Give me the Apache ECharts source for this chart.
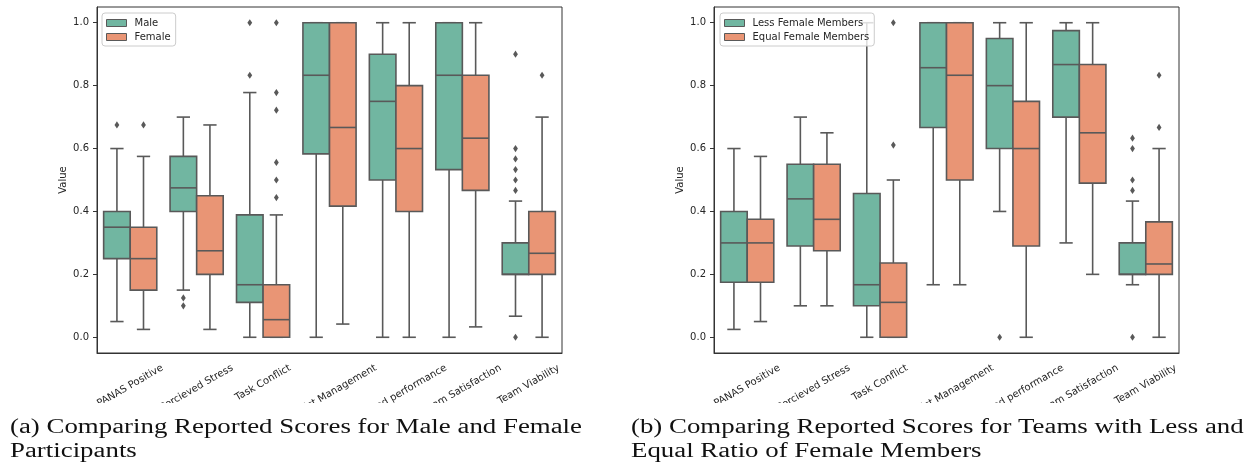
<!DOCTYPE html>
<html><head><meta charset="utf-8">
<script src="https://cdn.jsdelivr.net/npm/echarts@6/dist/echarts.min.js"></script>
<style>html,body{margin:0;padding:0;background:#fff;}#c{width:1255px;height:470px;}</style>
</head><body><div id="c"></div>
<script>
// ---------- data ----------
const categories = ['PANAS Positive', 'Percieved Stress', 'Task Conflict', 'Conflict Management', 'Perceived performance', 'Team Satisfaction', 'Team Viability'];
const yTicks = [0, 0.2, 0.4, 0.6, 0.8, 1.0];
const legendA = ['Male', 'Female'];
const legendB = ['Less Female Members', 'Equal Female Members'];
const captionA = ['(a) Comparing Reported Scores for Male and Female', 'Participants'];
const captionB = ['(b) Comparing Reported Scores for Teams with Less and', 'Equal Ratio of Female Members'];

// [lower whisker, Q1, median, Q3, upper whisker]
const maleBoxes = [
  [0.05, 0.25, 0.35, 0.40, 0.60],
  [0.15, 0.40, 0.475, 0.575, 0.70],
  [0.00, 0.111, 0.167, 0.389, 0.778],
  [0.00, 0.583, 0.833, 1.00, 1.00],
  [0.00, 0.50, 0.75, 0.90, 1.00],
  [0.00, 0.533, 0.833, 1.00, 1.00],
  [0.067, 0.20, 0.20, 0.30, 0.433]
];
const femaleBoxes = [
  [0.025, 0.15, 0.25, 0.35, 0.575],
  [0.025, 0.20, 0.275, 0.45, 0.675],
  [0.00, 0.00, 0.056, 0.167, 0.389],
  [0.042, 0.417, 0.667, 1.00, 1.00],
  [0.00, 0.40, 0.60, 0.80, 1.00],
  [0.033, 0.467, 0.633, 0.833, 1.00],
  [0.00, 0.20, 0.267, 0.40, 0.70]
];
const maleOutliers = [[0.675], [0.125, 0.10], [1.0, 0.833], [], [], [], [0.9, 0.60, 0.567, 0.533, 0.50, 0.467, 0.0]];
const femaleOutliers = [[0.675], [], [1.0, 0.778, 0.722, 0.556, 0.50, 0.444], [], [], [], [0.833]];

const lessBoxes = [
  [0.025, 0.175, 0.30, 0.40, 0.60],
  [0.10, 0.29, 0.44, 0.55, 0.70],
  [0.00, 0.10, 0.167, 0.457, 1.00],
  [0.167, 0.667, 0.857, 1.00, 1.00],
  [0.40, 0.60, 0.80, 0.95, 1.00],
  [0.30, 0.70, 0.867, 0.975, 1.00],
  [0.167, 0.20, 0.20, 0.30, 0.433]
];
const equalBoxes = [
  [0.05, 0.175, 0.30, 0.375, 0.575],
  [0.10, 0.275, 0.375, 0.55, 0.65],
  [0.00, 0.00, 0.111, 0.236, 0.50],
  [0.167, 0.50, 0.833, 1.00, 1.00],
  [0.00, 0.29, 0.60, 0.75, 1.00],
  [0.20, 0.49, 0.65, 0.867, 1.00],
  [0.00, 0.20, 0.233, 0.367, 0.60]
];
const lessOutliers = [[], [], [], [], [0.0], [], [0.633, 0.60, 0.50, 0.467, 0.0]];
const equalOutliers = [[], [], [1.0, 0.611], [], [], [], [0.833, 0.667]];

// ---------- style ----------
const GREEN = '#71b6a1', ORANGE = '#e99575', LINE = '#595959', AXIS = '#333333';
const FONT = 'DejaVu Sans';

const ctx = document.createElement('canvas').getContext('2d');
function textW(t, font) { ctx.font = font; return ctx.measureText(t).width; }

// Rotated (30°) labels centred on the tick like matplotlib: rotated bbox top 9px below the axis.
const LABEL_MARGIN = 4, LABEL_H = 12;
const catData = categories.map(c => {
  const w = textW(c, '10px "' + FONT + '"');
  const X = -0.25 * LABEL_H;
  const Y = 9 + 0.25 * w - LABEL_MARGIN;
  const a = 0.866 * X - 0.5 * Y;   // shift along the text direction
  const b = 0.5 * X + 0.866 * Y;   // shift perpendicular to the text
  const pl = a > 0 ? 2 * a : 0, pr = a < 0 ? -2 * a : 0;
  return { value: c, textStyle: { align: 'center', verticalAlign: 'top', padding: [Math.max(b, 0), pr, 0, pl] } };
});

function boxData(arr) { return arr.map((b, i) => [i].concat(b)); }
function outData(arr) { const r = []; arr.forEach((vs, i) => vs.forEach(v => r.push([i, v]))); return r; }

function boxRender(sign, color) {
  return function (params, api) {
    const cat = api.value(0);
    const band = api.size([1, 0])[0];
    const bw = band * 0.4;
    const cx = api.coord([cat, 0])[0] + sign * bw / 2;
    const y = i => api.coord([cat, api.value(i)])[1];
    const yLow = y(1), yQ1 = y(2), yMed = y(3), yQ3 = y(4), yHigh = y(5);
    const cap = bw * 0.25;
    const ls = { stroke: LINE, lineWidth: 1.6, fill: null };
    return {
      type: 'group', children: [
        { type: 'line', shape: { x1: cx, y1: yLow, x2: cx, y2: yQ1 }, style: ls },
        { type: 'line', shape: { x1: cx, y1: yQ3, x2: cx, y2: yHigh }, style: ls },
        { type: 'line', shape: { x1: cx - cap, y1: yLow, x2: cx + cap, y2: yLow }, style: ls },
        { type: 'line', shape: { x1: cx - cap, y1: yHigh, x2: cx + cap, y2: yHigh }, style: ls },
        { type: 'rect', shape: { x: cx - bw / 2, y: yQ3, width: bw, height: yQ1 - yQ3 }, style: { fill: color, stroke: LINE, lineWidth: 1.6 } },
        { type: 'line', shape: { x1: cx - bw / 2, y1: yMed, x2: cx + bw / 2, y2: yMed }, style: ls }
      ]
    };
  };
}
function outRender(sign) {
  return function (params, api) {
    const cat = api.value(0);
    const band = api.size([1, 0])[0];
    const p = api.coord([cat, api.value(1)]);
    const x = p[0] + sign * band * 0.2, yy = p[1];
    return { type: 'polygon', shape: { points: [[x, yy - 3.6], [x + 2.4, yy], [x, yy + 3.6], [x - 2.4, yy]] }, style: { fill: LINE } };
  };
}

const grids = [
  { left: 97, top: 7, width: 465, height: 346, show: true, borderColor: AXIS, borderWidth: 1, backgroundColor: 'transparent' },
  { left: 714, top: 7, width: 465, height: 346, show: true, borderColor: AXIS, borderWidth: 1, backgroundColor: 'transparent' }
];
function xAx(gi) {
  return {
    type: 'category', gridIndex: gi, data: catData, boundaryGap: true,
    axisLine: { onZero: false, lineStyle: { color: AXIS, width: 1 } },
    axisTick: { alignWithLabel: true, length: 4, lineStyle: { color: AXIS } },
    axisLabel: { interval: 0, rotate: 30, margin: LABEL_MARGIN, lineHeight: LABEL_H, color: '#262626', fontFamily: FONT, fontSize: 10, hideOverlap: false },
    splitLine: { show: false }
  };
}
function yAx(gi) {
  return {
    type: 'value', gridIndex: gi, min: -0.05, max: 1.05,
    name: 'Value', nameLocation: 'middle', nameGap: 29,
    nameTextStyle: { fontFamily: FONT, fontSize: 10, color: '#262626' },
    axisLine: { show: true, onZero: false, lineStyle: { color: AXIS, width: 1 } },
    axisTick: { show: true, length: 4, customValues: yTicks, lineStyle: { color: AXIS } },
    axisLabel: { customValues: yTicks, formatter: v => v.toFixed(1), margin: 8, color: '#262626', fontFamily: FONT, fontSize: 10 },
    splitLine: { show: false }
  };
}
function legend(names, left) {
  return {
    orient: 'vertical', left: left, top: 13,
    padding: [5, 5, 4, 4], itemGap: 4, itemWidth: 20, itemHeight: 7,
    backgroundColor: 'rgba(255,255,255,0.8)', borderColor: '#cccccc', borderWidth: 1, borderRadius: 3,
    textStyle: { fontFamily: FONT, fontSize: 10, color: '#262626', padding: [0, 0, 0, 3] },
    data: [
      { name: names[0], icon: 'rect', itemStyle: { color: GREEN, borderColor: LINE, borderWidth: 1 } },
      { name: names[1], icon: 'rect', itemStyle: { color: ORANGE, borderColor: LINE, borderWidth: 1 } }
    ]
  };
}
function boxSeries(name, gi, arr, sign, color) {
  return { name: name, type: 'custom', xAxisIndex: gi, yAxisIndex: gi, renderItem: boxRender(sign, color),
    itemStyle: { color: color, borderColor: LINE }, encode: { x: 0, y: [1, 2, 3, 4, 5] }, data: boxData(arr), z: 2 };
}
function outSeries(name, gi, arr, sign) {
  return { name: name, type: 'custom', xAxisIndex: gi, yAxisIndex: gi, renderItem: outRender(sign),
    encode: { x: 0, y: 1 }, data: outData(arr), z: 3 };
}

// caption: Liberation Serif, horizontally scaled to the reference caption width
const CAP_FS = 20.5;
const capScale = 572 / textW(captionA[0], CAP_FS + 'px "Liberation Serif"');
const capStyle = { fontFamily: 'Liberation Serif', fontSize: CAP_FS, fill: '#111' };
function cap(text, x, y) {
  return { type: 'text', x: x, y: y, scaleX: capScale, style: Object.assign({ text: text }, capStyle), z: 101 };
}

const option = {
  animation: false,
  backgroundColor: '#fff',
  grid: grids,
  xAxis: [xAx(0), xAx(1)],
  yAxis: [yAx(0), yAx(1)],
  legend: [legend(legendA, 102), legend(legendB, 720)],
  series: [
    boxSeries(legendA[0], 0, maleBoxes, -1, GREEN),
    boxSeries(legendA[1], 0, femaleBoxes, 1, ORANGE),
    outSeries(legendA[0], 0, maleOutliers, -1),
    outSeries(legendA[1], 0, femaleOutliers, 1),
    boxSeries(legendB[0], 1, lessBoxes, -1, GREEN),
    boxSeries(legendB[1], 1, equalBoxes, 1, ORANGE),
    outSeries(legendB[0], 1, lessOutliers, -1),
    outSeries(legendB[1], 1, equalOutliers, 1)
  ],
  graphic: [
    { type: 'rect', left: 0, top: 403, shape: { width: 1255, height: 67 }, style: { fill: '#fff' }, z: 100 },
    cap(captionA[0], 10, 417),
    cap(captionA[1], 10, 441),
    cap(captionB[0], 631, 417),
    cap(captionB[1], 631, 441)
  ]
};
const chart = echarts.init(document.getElementById('c'), null, { renderer: 'canvas' });
chart.setOption(option);
</script></body></html>
